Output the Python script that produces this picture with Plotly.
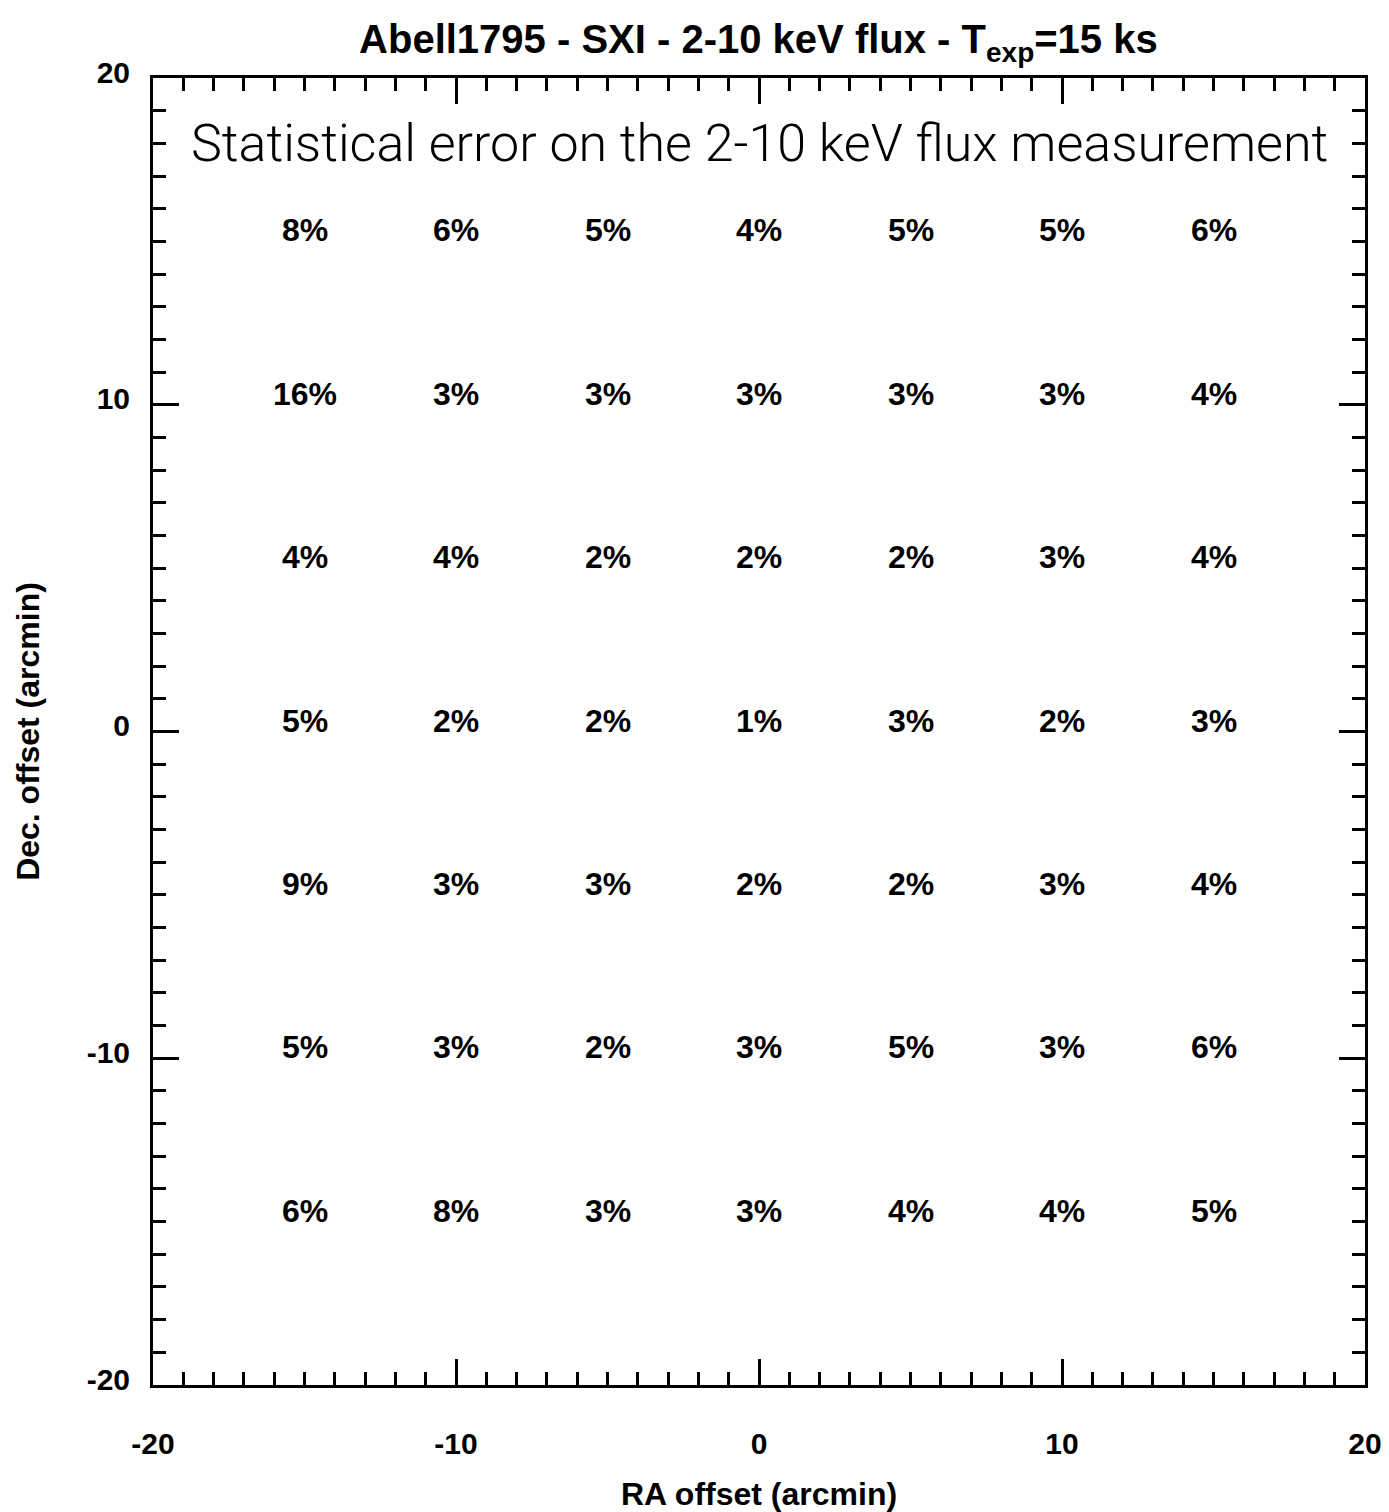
import plotly.graph_objects as go

ra = [-15, -10, -5, 0, 5, 10, 15]
dec = [15, 10, 5, 0, -5, -10, -15]
errors = [
    [8, 6, 5, 4, 5, 5, 6],
    [16, 3, 3, 3, 3, 3, 4],
    [4, 4, 2, 2, 2, 3, 4],
    [5, 2, 2, 1, 3, 2, 3],
    [9, 3, 3, 2, 2, 3, 4],
    [5, 3, 2, 3, 5, 3, 6],
    [6, 8, 3, 3, 4, 4, 5],
]
tick_vals = [-20, -10, 0, 10, 20]

fig = go.Figure()
# invisible trace to establish axes
fig.add_trace(go.Scatter(x=[-20, 20], y=[-20, 20], mode="markers",
                         marker=dict(opacity=0), hoverinfo="skip", showlegend=False))

for j, d in enumerate(dec):
    for i, r in enumerate(ra):
        fig.add_annotation(
            x=r, y=d, xref="x", yref="y", showarrow=False, yshift=11,
            text=f"{errors[j][i]}%",
            font=dict(family="Liberation Sans", size=32, color="black", weight="bold"),
        )

fig.add_annotation(
    x=0, y=18, xref="x", yref="y", showarrow=False,
    text="Statistical error on the 2-10 keV flux measurement",
    font=dict(family="Roboto", size=52, color="black", weight=300),
)

axis_common = dict(
    showgrid=False, zeroline=False, showline=True, linecolor="black", linewidth=3,
    mirror="ticks", ticks="inside", ticklen=26, tickwidth=3, tickcolor="black",
    tickvals=tick_vals, ticktext=[str(v) for v in tick_vals],
    tickfont=dict(family="Liberation Sans", size=30, color="black", weight="bold"),
    minor=dict(dtick=1, ticks="inside", ticklen=13, tickwidth=3, tickcolor="black", showgrid=False),
    range=[-20, 20], automargin=False,
)

fig.update_layout(
    width=1389, height=1512,
    margin=dict(l=153, r=24, t=78, b=127),
    paper_bgcolor="white", plot_bgcolor="white",
    title=dict(
        text="Abell1795 - SXI - 2-10 keV flux - T<sub>exp</sub>=15 ks",
        x=0.546, xanchor="center", y=0.974, yanchor="middle", automargin=False,
        font=dict(family="Liberation Sans", size=40, color="black", weight="bold"),
    ),
    xaxis=dict(**axis_common, title=dict(text="RA offset (arcmin)", standoff=28,
               font=dict(family="Liberation Sans", size=32, color="black", weight="bold"))),
    yaxis=dict(**axis_common, title=dict(text="Dec. offset (arcmin)", standoff=38,
               font=dict(family="Liberation Sans", size=32, color="black", weight="bold"))),
)
fig.update_xaxes(ticklabelstandoff=30)
fig.update_yaxes(ticklabelstandoff=14, ticklabelshift=-6)

fig.write_html("out.html")
